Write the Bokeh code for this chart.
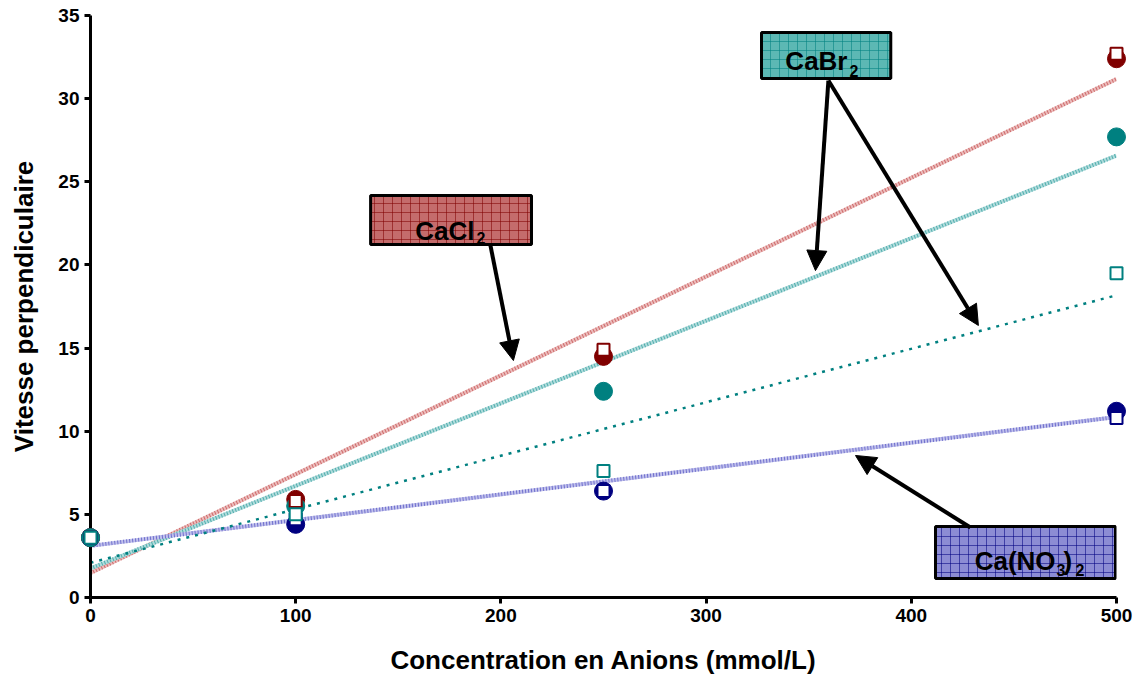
import numpy as np
from bokeh.plotting import figure
from bokeh.models import Range1d, Label, Arrow, NormalHead
from bokeh.embed import file_html
from bokeh.resources import INLINE

# ---------------- data ----------------
conc = [0, 100, 250, 500]
cacl2_circ = [3.6, 5.9, 14.5, 32.4]
cacl2_sq = [3.6, 5.8, 14.9, 32.7]
cabr2_circ = [3.6, 5.5, 12.4, 27.7]
cabr2_sq = [3.6, 5.0, 7.6, 19.5]
cano3_circ = [3.6, 4.4, 6.4, 11.2]
cano3_sq = [3.6, 4.7, 6.4, 10.8]
x_ticks = [0, 100, 200, 300, 400, 500]
y_ticks = [0, 5, 10, 15, 20, 25, 30, 35]

FONT = "Liberation Sans"
RED, TEAL, NAVY = "#800000", "#008080", "#000080"

p = figure(width=1133, height=681, output_backend="svg", toolbar_location=None,
           x_range=Range1d(0, 500), y_range=Range1d(0, 35),
           min_border_left=90, min_border_right=17, min_border_top=15, min_border_bottom=84)
p.outline_line_color = None
p.xgrid.grid_line_color = None
p.ygrid.grid_line_color = None
p.background_fill_color = "white"
p.border_fill_color = "white"

for ax in (p.xaxis[0], p.yaxis[0]):
    ax.axis_line_width = 3
    ax.axis_line_color = "black"
    ax.major_tick_line_width = 3
    ax.major_tick_line_color = "black"
    ax.major_tick_out = 6
    ax.major_tick_in = 0
    ax.minor_tick_line_color = None
    ax.major_label_text_font = FONT
    ax.major_label_text_font_style = "bold"
    ax.major_label_text_font_size = "19px"
    ax.major_label_text_color = "black"
    ax.axis_label_text_font = FONT
    ax.axis_label_text_font_style = "bold"
    ax.axis_label_text_font_size = "26px"
    ax.axis_label_text_color = "black"
p.xaxis.ticker = x_ticks
p.yaxis.ticker = y_ticks
p.xaxis.axis_label = "Concentration en Anions (mmol/L)"
p.yaxis.axis_label = "Vitesse perpendiculaire"
p.xaxis.major_label_standoff = 5
p.yaxis.major_label_standoff = 5
p.xaxis.axis_label_standoff = 20
p.yaxis.axis_label_standoff = 16

# ---------------- trend lines (linear fits) ----------------
xs_fit = np.array([0, 500])
def fit(y):
    a, b = np.polyfit(conc, y, 1)
    return a * xs_fit + b

def hatched_line(y, base, dark):
    yy = fit(y)
    p.line(xs_fit, yy, line_color=base, line_width=4)
    p.line(xs_fit, yy, line_color=dark, line_width=4, line_dash="1 2", line_alpha=0.7)

hatched_line(cacl2_circ, "#ecbcbc", "#c04848")
hatched_line(cabr2_circ, "#b0dcdc", "#2a9a9a")
hatched_line(cano3_circ, "#c0c0ec", "#5050c0")
p.line(xs_fit, fit(cabr2_sq), line_color=TEAL, line_width=2.5, line_dash="3 6")

# ---------------- markers ----------------
for ys, c in ((cano3_circ, NAVY), (cacl2_circ, RED), (cabr2_circ, TEAL)):
    r = p.scatter(conc, ys, marker="circle", size=18, fill_color=c, line_color=c)
    r.level = "overlay"
for ys, c in ((cacl2_sq, RED), (cano3_sq, NAVY), (cabr2_sq, TEAL)):
    r = p.scatter(conc, ys, marker="square", size=12, fill_color="white", line_color=c, line_width=2)
    r.level = "overlay"

# ---------------- label boxes ----------------
boxes = [
    (136.5, 214.9, 24.17, 21.23, "#c46c6c", RED),
    (327.0, 390.0, 33.98, 31.21, "#5cb8b4", TEAL),
    (411.8, 499.5, 4.27, 1.14, "#8c8cd4", NAVY),
]
for l, r_, t, b, fc, hc in boxes:
    p.quad(left=l, right=r_, top=t, bottom=b, fill_color=fc, hatch_pattern="+",
           hatch_color=hc, hatch_alpha=0.55, hatch_scale=9, hatch_weight=1,
           line_color="black", line_width=3)

def txt(x, y, s, size, align):
    p.add_layout(Label(x=x, y=y, text=s, text_font=FONT, text_font_style="bold",
                       text_font_size=size, text_align=align, text_baseline="alphabetic",
                       text_color="black"))

txt(187.1, 22.07, "CaCl", "26px", "right")
txt(188.1, 21.59, "2", "16px", "left")
txt(368.9, 32.29, "CaBr", "26px", "right")
txt(369.9, 31.69, "2", "16px", "left")
txt(470.3, 2.225, "Ca(NO", "26px", "right")
txt(470.8, 1.624, "3", "16px", "left")
txt(474.2, 2.225, ")", "26px", "left")
txt(480.0, 1.624, "2", "16px", "left")

# ---------------- arrows ----------------
arrows = [
    (194.9, 21.17, 206.1, 14.25),
    (359.6, 31.09, 353.3, 19.66),
    (359.6, 31.09, 432.7, 16.36),
    (428.8, 4.21, 372.8, 8.54),
]
for xs, ys, xe, ye in arrows:
    p.add_layout(Arrow(x_start=xs, y_start=ys, x_end=xe, y_end=ye, line_width=4,
                       line_color="black",
                       end=NormalHead(size=20, fill_color="black", line_color="black")))

open("out.html", "w").write(file_html(p, INLINE))
